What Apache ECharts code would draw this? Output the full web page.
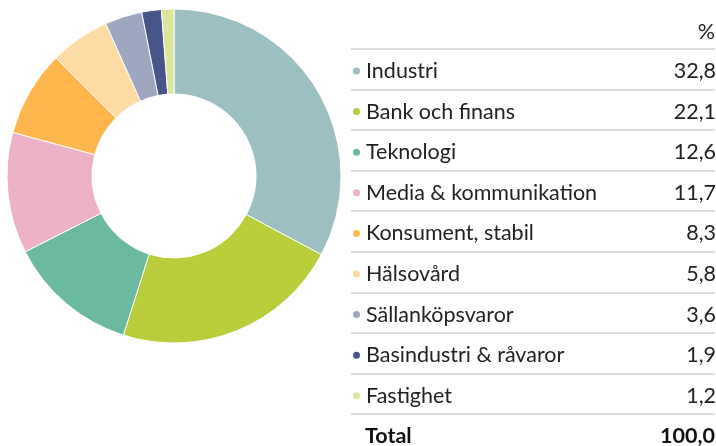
<!DOCTYPE html>
<html>
<head>
<meta charset="utf-8">
<script src="https://cdn.jsdelivr.net/npm/echarts@6/dist/echarts.min.js"></script>
<style>
  html, body { margin: 0; padding: 0; background: #fff; }
  #chart { width: 716px; height: 446px; }
</style>
</head>
<body>
<div id="chart"></div>
<script>
// sector weights, percent
const categories = ['Industri', 'Bank och finans', 'Teknologi', 'Media & kommunikation', 'Konsument, stabil', 'Hälsovård', 'Sällanköpsvaror', 'Basindustri & råvaror', 'Fastighet']
const values = [32.8, 22.1, 12.6, 11.7, 8.3, 5.8, 3.6, 1.9, 1.2]
const colors = ['#9cc0c1', '#b9cc3a', '#6bbaa0', '#edb1c8', '#ffb74d', '#fedaa4', '#9fa6c0', '#47568a', '#dbe59c']
const headerLabel = '%'
const totalLabel = 'Total'

const FONT = 'Lato'
const FS = 21.5
const LH = 22
const fmt = (v) => v.toFixed(1).replace('.', ',')
const total = values.reduce((a, b) => a + b, 0)

const firstRowMid = 71   // vertical middle of first row
const rowPitch = 40.6
const tableLeft = 351
const tableRight = 715

const chart = echarts.init(document.getElementById('chart'))

// separator lines: one above each row plus one above the total
const lines = []
for (let i = 0; i <= categories.length; i++) {
    const y = Math.round(firstRowMid - 22 + i * rowPitch)
    lines.push({
        type: 'line',
        shape: { x1: tableLeft, y1: y, x2: tableRight, y2: y },
        style: { stroke: '#dcdcdc', lineWidth: 2 },
        silent: true
    })
}
const totalTop = Math.round(firstRowMid + categories.length * rowPitch - LH / 2)

chart.setOption({
    backgroundColor: '#fff',
    animation: false,
    color: colors,
    legend: {
        orient: 'vertical',
        left: tableLeft,
        top: firstRowMid - LH / 2,
        padding: 0,
        icon: 'circle',
        itemWidth: 9,
        itemHeight: 9,
        itemGap: rowPitch - LH,
        selectedMode: false,
        data: categories,
        formatter: (name) => {
            const v = values[categories.indexOf(name)]
            return '{n|' + name + '}{v|' + fmt(v) + '}'
        },
        textStyle: {
            fontFamily: FONT,
            fontSize: FS,
            color: '#222',
            lineHeight: LH,
            rich: {
                n: { width: 270, fontFamily: FONT, fontSize: FS, color: '#222', lineHeight: LH },
                v: { width: 80, align: 'right', fontFamily: FONT, fontSize: FS, color: '#222', lineHeight: LH }
            }
        }
    },
    graphic: [
        ...lines,
        {
            type: 'text',
            right: 716 - tableRight,
            top: 21,
            style: { text: headerLabel, fontFamily: FONT, fontSize: FS, fill: '#222' }
        },
        {
            type: 'text',
            left: tableLeft + 14,
            top: totalTop,
            style: { text: totalLabel, fontFamily: FONT, fontSize: FS, fontWeight: 'bold', fill: '#111' }
        },
        {
            type: 'text',
            right: 716 - tableRight,
            top: totalTop,
            style: { text: fmt(total), fontFamily: FONT, fontSize: FS, fontWeight: 'bold', fill: '#111' }
        }
    ],
    series: [
        {
            type: 'pie',
            center: [174, 176],
            radius: [82, 167],
            startAngle: 90,
            clockwise: true,
            label: { show: false },
            labelLine: { show: false },
            silent: true,
            itemStyle: { borderColor: '#fff', borderWidth: 1 },
            data: categories.map((name, i) => ({ name, value: values[i] }))
        }
    ]
})
</script>
</body>
</html>
